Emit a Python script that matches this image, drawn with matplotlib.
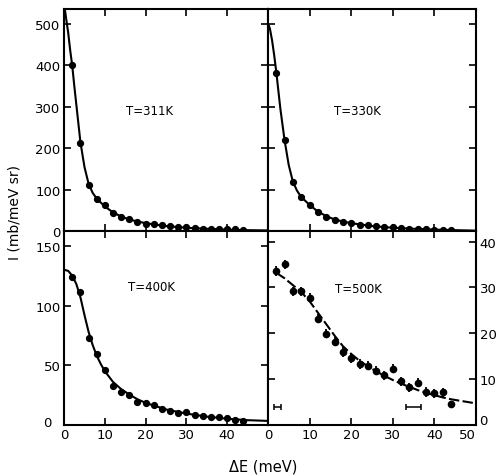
import matplotlib
matplotlib.use("Agg")
import matplotlib.pyplot as plt

# energy transfer of the measured points (meV)
dE = [2, 4, 6, 8, 10, 12, 14, 16, 18, 20, 22, 24, 26, 28, 30, 32, 34, 36, 38, 40, 42, 44]

# T = 311 K
I_311 = [400, 212, 112, 79, 64, 44, 35, 29, 24, 18.5, 17.7, 14.5, 13, 11, 9.7, 8, 7, 6.4, 6.4, 6.4, 5, 4]
# T = 330 K
I_330 = [382, 220, 118, 84, 64, 48, 35, 27, 23, 20, 16, 14.5, 13, 11, 9.6, 8, 7, 6.4, 5.6, 4, 4, 2.4]
# T = 400 K
I_400 = [124, 111, 73, 59.5, 46, 33, 27.7, 25, 19, 18.4, 17, 13.7, 12, 10.3, 10.9, 8.7, 7.8, 6.4, 6.4, 6.1, 4.5, 3.6]
# T = 500 K (with error bars, last point has none)
I_500 = [33.6, 35, 29.2, 29.2, 27.8, 23.2, 19.9, 18.2, 15.9, 14.6, 13.3, 12.9, 11.8, 10.8, 12.3, 9.5, 8.2, 9.2, 7.2, 6.9, 7.1, 4.5]
err_500 = [1.0] * 21 + [0]

# fitted curves
fit_x = [0, 0.25, 0.5, 1, 1.5, 2, 2.5, 3, 4, 5, 6, 7, 8, 10, 12, 14, 16, 18, 20, 25, 30, 35, 40, 45, 50]
fit_311 = [540, 530, 512, 478, 435, 398, 350, 305, 215, 155, 115, 93, 79, 60, 46, 36, 29, 24, 20, 13, 9, 6.5, 4.5, 3.2, 2.5]
fit_330 = [498, 495, 487, 460, 425, 385, 340, 295, 220, 160, 120, 98, 83, 64, 48, 37, 29, 24, 20, 13, 9, 6.5, 4.5, 3.2, 2.0]

fit400_x = [0, 1, 2, 3, 4, 5, 6, 7, 8, 9, 10, 12, 14, 16, 18, 20, 25, 30, 35, 40, 45, 50]
fit_400 = [130, 129, 125, 118, 107, 92, 78, 67, 58, 51, 45, 36, 30, 25.5, 21.5, 18.5, 13, 9.5, 7, 5.2, 4, 3.4]

fit500_x = [2, 4, 6, 8, 10, 12, 14, 16, 18, 20, 22, 24, 26, 28, 30, 32, 34, 36, 38, 40, 42, 44, 46, 48, 50]
fit_500 = [33.2, 32, 30.5, 29, 27, 24.5, 22, 19.5, 17.2, 15.5, 14, 12.8, 11.7, 10.7, 9.8, 9, 8.3, 7.6, 7, 6.5, 6, 5.6, 5.3, 5, 4.7]

# instrumental resolution bars in the 500 K panel
res_x = [2.2, 34.9]
res_w = [0.85, 1.8]
res_y = [4.0, 4.0]

labels = ["T=311K", "T=330K", "T=400K", "T=500K"]

plt.rcParams['font.family'] = ['DejaVu Sans']

fig = plt.figure(figsize=(4.97, 4.77), dpi=100)
L, M, R = 0.129, 0.539, 0.958
B, C, T = 0.107, 0.5126, 0.979
ax1 = fig.add_axes([L, C, M - L, T - C])
ax2 = fig.add_axes([M, C, R - M, T - C])
ax3 = fig.add_axes([L, B, M - L, C - B])
ax4 = fig.add_axes([M, B, R - M, C - B])

for a in (ax1, ax2, ax3, ax4):
    a.set_xlim(0, 50)
    a.set_xticks([0, 10, 20, 30, 40, 50])
    for s in a.spines.values():
        s.set_linewidth(1.5)
    a.tick_params(direction='in', length=5, width=1.2, top=True, right=True,
                  labelsize=9.5, pad=2.5)

mk = dict(marker='o', ms=4.2, color='black', ls='none')

ax1.plot(fit_x, fit_311, color='black', lw=1.5)
ax1.plot(dE, I_311, **mk)
ax1.set_ylim(0, 535)
ax1.set_yticks([0, 100, 200, 300, 400, 500])
ax1.tick_params(labelbottom=False)
ax1.text(21, 290, labels[0], ha='center', va='center', fontsize=8.5)

ax2.plot(fit_x, fit_330, color='black', lw=1.5)
ax2.plot(dE, I_330, **mk)
ax2.set_ylim(0, 535)
ax2.set_yticks([0, 100, 200, 300, 400, 500])
ax2.tick_params(labelbottom=False, labelleft=False)
ax2.text(21.5, 290, labels[1], ha='center', va='center', fontsize=8.5)

ax3.plot(fit400_x, fit_400, color='black', lw=1.5)
ax3.plot(dE, I_400, **mk)
ax3.set_ylim(0, 162)
ax3.set_yticks([0, 50, 100, 150])
ax3.set_yticklabels(['', '50', '100', '150'])
ax3.set_xticklabels(['0', '10', '20', '30', '40', ''])
ax3.annotate('0', xy=(0, 0), xycoords='data', xytext=(-9, 2), textcoords='offset points',
             ha='right', va='center', fontsize=9.5)
ax3.text(21.5, 116, labels[2], ha='center', va='center', fontsize=8.5)

ax4.plot(fit500_x, fit_500, color='black', lw=1.5, ls=(0, (5, 1.6)))
ax4.errorbar(dE, I_500, yerr=err_500, fmt='o', ms=4.5, color='black',
             elinewidth=1.3, capsize=0)
ax4.errorbar(res_x, res_y, xerr=res_w, fmt='none', ecolor='black',
             elinewidth=1.1, capsize=2.5, capthick=1.1)
ax4.set_ylim(0, 42.2)
ax4.set_yticks([0, 10, 20, 30, 40])
ax4.set_yticklabels(['', '10', '20', '30', '40'])
ax4.set_xticklabels(['0', '10', '20', '30', '40', ''])
ax4.tick_params(labelleft=False, labelright=True)
# "50" pushed left and the right-hand "0" raised, as in the original
ax4.annotate('50', xy=(50, 0), xycoords='data', xytext=(0, -2.5), textcoords='offset points',
             ha='right', va='top', fontsize=9.5)
ax4.annotate('0', xy=(50, 0), xycoords='data', xytext=(2, 3), textcoords='offset points',
             ha='left', va='center', fontsize=9.5)
ax4.text(21.8, 29.8, labels[3], ha='center', va='center', fontsize=8.5)

fig.text(0.03, 0.555, 'I (mb/meV sr)', rotation=90, ha='center', va='center', fontsize=10)
fig.text(0.53, 0.021, '\u0394E (meV)', ha='center', va='center', fontsize=10.5)

plt.savefig('out.png', dpi=100)
